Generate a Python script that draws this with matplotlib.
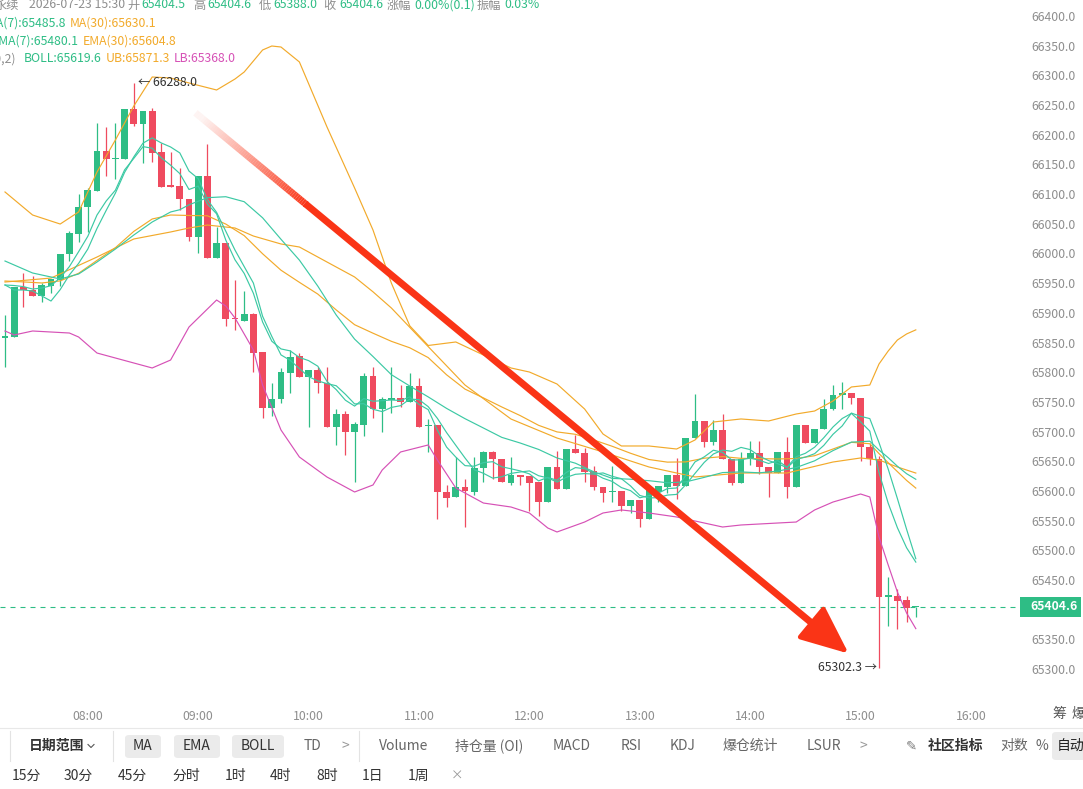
import matplotlib
matplotlib.use("Agg")
import matplotlib.pyplot as plt
import numpy as np
import pandas as pd
from matplotlib.collections import LineCollection
from matplotlib.patches import Rectangle, FancyBboxPatch
from matplotlib.lines import Line2D

plt.rcParams['font.family'] = ['Noto Sans CJK SC', 'DejaVu Sans']

# ---------------- data (5 minute candles) ----------------
start_time = "2026-07-23 07:15"

open_ = [65857.6, 65859.3, 65943.5, 65938.5, 65928.4, 65945.2, 65955.3, 65999.1, 66032.8, 66078.3,
         66105.2, 66172.6, 66159.1, 66159.1, 66243.4, 66218.1, 66240.0, 66170.9, 66115.4, 66113.7,
         66091.8, 66027.7, 66130.5, 65992.4, 66017.6, 65891.3, 65886.2, 65898.0, 65834.0, 65739.7,
         65754.8, 65798.6, 65827.3, 65791.9, 65803.7, 65781.8, 65707.7, 65729.6, 65699.3, 65711.0,
         65793.6, 65738.0, 65753.2, 65756.5, 65749.8, 65776.7, 65709.4, 65711.0, 65598.2, 65589.8,
         65606.6, 65598.2, 65638.6, 65665.6, 65653.8, 65613.4, 65626.8, 65625.1, 65615.0, 65581.3,
         65640.3, 65603.2, 65670.6, 65663.9, 65633.6, 65606.6, 65598.2, 65599.9, 65574.6, 65584.7,
         65552.7, 65598.2, 65606.6, 65626.8, 65608.3, 65689.1, 65717.8, 65682.4, 65702.6, 65653.8,
         65613.4, 65653.8, 65663.9, 65640.3, 65630.2, 65665.6, 65606.6, 65711.0, 65680.7, 65704.3,
         65738.0, 65761.6, 65764.9, 65756.5, 65674.0, 65653.8, 65421.3, 65423.0, 65416.2, 65404.5]
high = [65896.4, 65943.5, 65967.1, 65962.0, 65950.3, 65957.0, 65999.1, 66037.9, 66100.2, 66110.3,
        66219.8, 66213.1, 66219.8, 66243.4, 66288.0, 66240.0, 66245.1, 66186.1, 66170.9, 66144.0,
        66091.8, 66130.5, 66184.4, 66044.6, 66017.6, 65955.3, 65936.8, 65899.7, 65834.0, 65781.8,
        65807.1, 65837.4, 65832.3, 65803.7, 65808.8, 65808.8, 65738.0, 65734.6, 65716.1, 65798.6,
        65808.8, 65758.2, 65808.8, 65778.4, 65798.6, 65790.2, 65721.1, 65711.0, 65610.0, 65657.1,
        65620.1, 65657.1, 65667.2, 65667.2, 65653.8, 65657.1, 65626.8, 65625.1, 65615.0, 65640.3,
        65667.2, 65670.6, 65694.2, 65672.3, 65642.0, 65606.6, 65642.0, 65599.9, 65584.7, 65584.7,
        65603.2, 65608.3, 65626.8, 65655.5, 65689.1, 65763.3, 65717.8, 65719.5, 65729.6, 65653.8,
        65665.6, 65684.1, 65684.1, 65640.3, 65665.6, 65690.8, 65711.0, 65711.0, 65704.3, 65754.8,
        65778.4, 65783.5, 65764.9, 65756.5, 65680.7, 65658.8, 65455.0, 65434.8, 65423.0, 65404.6]
low = [65808.8, 65859.3, 65909.8, 65928.4, 65918.3, 65933.4, 65945.2, 65987.3, 66019.3, 66036.2,
       66105.2, 66130.5, 66125.5, 66159.1, 66214.7, 66152.4, 66154.1, 66112.0, 66112.0, 66073.2,
       66021.0, 66000.8, 65992.4, 65992.4, 65877.8, 65871.1, 65886.2, 65800.3, 65722.8, 65726.2,
       65748.1, 65764.9, 65791.9, 65707.7, 65764.9, 65707.7, 65677.4, 65660.5, 65615.0, 65692.5,
       65722.8, 65699.3, 65731.3, 65741.4, 65749.8, 65707.7, 65665.6, 65552.7, 65572.9, 65589.8,
       65539.2, 65593.1, 65615.0, 65620.1, 65615.0, 65610.0, 65610.0, 65566.2, 65557.7, 65581.3,
       65603.2, 65603.2, 65663.9, 65615.0, 65601.5, 65581.3, 65581.3, 65566.2, 65562.8, 65539.2,
       65552.7, 65581.3, 65596.5, 65586.4, 65608.3, 65689.1, 65674.0, 65677.4, 65653.8, 65610.0,
       65613.4, 65643.7, 65628.5, 65589.8, 65630.2, 65588.1, 65606.6, 65680.7, 65680.7, 65704.3,
       65736.3, 65738.0, 65746.4, 65650.4, 65643.7, 65302.3, 65372.4, 65367.4, 65379.2, 65388.0]
close = [65861.0, 65943.5, 65938.5, 65928.4, 65946.9, 65957.0, 65999.1, 66034.5, 66078.3, 66106.9,
         66172.6, 66159.1, 66160.8, 66243.4, 66218.1, 66240.0, 66169.2, 66112.0, 66112.0, 66091.8,
         66027.7, 66130.5, 65992.4, 66017.6, 65889.6, 65889.6, 65898.0, 65832.3, 65739.7, 65754.8,
         65800.3, 65825.6, 65791.9, 65803.7, 65781.8, 65707.7, 65729.6, 65699.3, 65712.7, 65793.6,
         65738.0, 65754.8, 65756.5, 65749.8, 65776.7, 65707.7, 65711.0, 65598.2, 65588.1, 65606.6,
         65599.9, 65638.6, 65665.6, 65653.8, 65615.0, 65626.8, 65623.5, 65613.4, 65581.3, 65640.3,
         65603.2, 65670.6, 65663.9, 65631.9, 65606.6, 65596.5, 65599.9, 65574.6, 65584.7, 65552.7,
         65603.2, 65608.3, 65626.8, 65608.3, 65689.1, 65717.8, 65682.4, 65702.6, 65653.8, 65613.4,
         65653.8, 65663.9, 65640.3, 65630.2, 65665.6, 65606.6, 65711.0, 65680.7, 65704.3, 65738.0,
         65761.6, 65764.9, 65756.5, 65674.0, 65653.8, 65421.3, 65424.7, 65414.5, 65402.8, 65404.6]

ma7 = [65946.9, 65938.5, 65938.5, 65936.8, 65928.4, 65919.9, 65939.1, 65963.9, 65983.3, 66007.4,
       66042.2, 66072.6, 66101.7, 66136.6, 66162.7, 66185.9, 66194.7, 66186.1, 66179.4, 66169.4,
       66138.8, 66126.1, 66090.7, 66069.2, 66037.4, 66005.7, 65977.9, 65950.1, 65894.2, 65860.3,
       65829.1, 65820.0, 65806.1, 65792.6, 65785.3, 65780.8, 65777.2, 65762.8, 65746.6, 65746.9,
       65737.5, 65733.6, 65740.7, 65743.6, 65754.7, 65753.8, 65742.0, 65722.2, 65698.2, 65676.8,
       65655.5, 65635.7, 65629.7, 65621.6, 65623.9, 65629.5, 65631.9, 65633.7, 65625.6, 65621.9,
       65614.9, 65622.8, 65628.0, 65629.2, 65628.3, 65630.3, 65624.6, 65620.6, 65608.3, 65592.4,
       65588.2, 65588.6, 65593.0, 65594.1, 65610.5, 65629.5, 65648.0, 65662.2, 65668.8, 65666.7,
       65673.3, 65669.6, 65658.6, 65651.1, 65645.8, 65639.1, 65653.1, 65657.0, 65662.7, 65676.7,
       65695.4, 65709.5, 65731.1, 65725.7, 65721.8, 65681.4, 65636.8, 65587.1, 65535.3, 65485.8]
ema7 = [65946.9, 65946.0, 65944.2, 65940.1, 65941.8, 65945.7, 65959.0, 65977.9, 66003.0, 66028.9,
        66064.8, 66088.4, 66106.6, 66140.8, 66160.2, 66180.0, 66177.3, 66161.0, 66148.7, 66134.6,
        66107.8, 66113.5, 66083.2, 66066.8, 66022.5, 65989.3, 65966.4, 65932.9, 65884.6, 65852.2,
        65839.2, 65835.9, 65824.9, 65819.5, 65810.1, 65784.5, 65770.7, 65752.8, 65742.9, 65755.5,
        65751.1, 65752.0, 65753.2, 65752.3, 65758.4, 65745.7, 65737.0, 65702.3, 65673.8, 65657.0,
        65642.6, 65641.6, 65647.7, 65649.2, 65640.6, 65637.3, 65633.7, 65628.7, 65616.9, 65622.8,
        65617.9, 65631.0, 65639.3, 65637.4, 65629.7, 65621.4, 65616.0, 65605.6, 65600.4, 65588.4,
        65592.1, 65596.2, 65603.9, 65604.9, 65626.0, 65648.9, 65657.3, 65668.6, 65664.9, 65652.1,
        65652.4, 65655.3, 65651.6, 65646.2, 65651.1, 65640.0, 65657.6, 65663.4, 65673.6, 65689.6,
        65707.7, 65722.0, 65730.6, 65716.4, 65700.8, 65630.9, 65579.3, 65538.0, 65504.2, 65480.1]

ema30_idx = [0, 2, 4, 6, 8, 10, 12, 14, 16, 18, 20, 22, 24, 26, 28, 30, 32, 34, 36, 38,
             40, 42, 44, 46, 48, 50, 52, 54, 56, 58, 60, 62, 64, 66, 68, 70, 72, 74, 76, 78,
             80, 82, 84, 86, 88, 90, 92, 94, 95, 96, 97, 98, 99]
ema30 = [65953.6, 65952.1, 65950.3, 65953.8, 65966.6, 65988.3, 66009.7, 66037.2, 66058.1, 66064.8,
         66064.0, 66063.5, 66049.5, 66030.1, 65999.5, 65971.8, 65951.4, 65931.6, 65904.9, 65880.0,
         65865.7, 65852.0, 65841.1, 65824.6, 65795.6, 65771.5, 65756.7, 65741.4, 65726.9, 65710.5,
         65699.4, 65695.4, 65685.8, 65675.2, 65663.4, 65652.9, 65648.5, 65648.9, 65655.1, 65657.8,
         65654.9, 65654.4, 65653.8, 65654.6, 65659.3, 65670.6, 65681.9, 65679.5, 65662.9, 65647.5,
         65632.5, 65617.7, 65604.8]

ma30_idx = [0, 5, 10, 14, 18, 20, 22, 25, 27, 30, 32, 35, 38, 40, 42, 45, 50, 55, 60, 65,
            70, 75, 80, 85, 90, 93, 95, 97, 99]
ma30 = [65951.9, 65958.6, 65994.0, 66024.4, 66036.2, 66042.9, 66047.9, 66042.9, 66029.4, 66016.0,
        66010.9, 65985.6, 65960.4, 65935.4, 65908.1, 65859.3, 65778.4, 65721.1, 65689.1, 65665.6,
        65640.3, 65623.5, 65630.2, 65630.2, 65648.7, 65655.5, 65652.1, 65640.3, 65630.1]

boll_idx = [0, 3, 6, 8, 10, 12, 14, 16, 18, 19, 20, 22, 24, 26, 28, 30, 32, 34, 36, 38,
            40, 42, 44, 46, 48, 50, 52, 54, 56, 58, 60, 62, 64, 66, 68, 70, 72, 74, 76, 78,
            80, 82, 84, 86, 88, 90, 92, 94, 95, 96, 97, 98, 99]
boll_mid = [65987.3, 65967.1, 65957.0, 65965.4, 65985.6, 66007.5, 66031.1, 66053.0, 66069.9, 66073.7,
            66082.0, 66094.0, 66095.6, 66087.2, 66060.1, 66023.9, 65988.8, 65945.0, 65896.4, 65855.7,
            65826.4, 65795.8, 65776.7, 65758.4, 65739.0, 65721.7, 65706.0, 65690.2, 65680.7, 65669.9,
            65655.5, 65646.7, 65632.2, 65621.1, 65619.7, 65617.2, 65613.8, 65615.2, 65622.8, 65630.9,
            65632.0, 65630.5, 65633.4, 65639.4, 65650.7, 65667.9, 65682.2, 65683.8, 65668.9, 65656.0,
            65641.6, 65629.0, 65619.6]

ub_idx = [0, 3, 6, 8, 10, 12, 14, 16, 18, 20, 23, 25, 26, 28, 29, 30, 32, 35, 38, 40,
          42, 44, 46, 49, 52, 55, 57, 60, 63, 65, 67, 70, 73, 75, 77, 80, 83, 86, 88, 90,
          92, 94, 95, 96, 97, 98, 99]
ub = [66103.6, 66064.8, 66049.6, 66069.9, 66137.2, 66191.2, 66248.4, 66297.3, 66295.6, 66287.2,
      66275.4, 66293.9, 66305.7, 66342.8, 66349.5, 66347.8, 66322.6, 66213.1, 66110.3, 66039.5,
      65950.0, 65878.0, 65845.0, 65850.9, 65829.0, 65807.1, 65800.3, 65780.1, 65738.0, 65695.9,
      65675.7, 65675.7, 65670.6, 65685.8, 65716.1, 65721.2, 65717.8, 65729.6, 65734.6, 65751.5,
      65775.1, 65778.4, 65813.8, 65835.7, 65854.2, 65864.4, 65871.3]

lb_idx = [0, 1, 3, 7, 8, 10, 12, 16, 18, 20, 21, 23, 24, 25, 27, 28, 30, 32, 35, 38,
          40, 41, 43, 46, 47, 49, 52, 55, 57, 59, 60, 63, 65, 67, 70, 73, 78, 80, 86, 88,
          90, 93, 94, 95, 96, 97, 98, 99]
lb = [65869.4, 65862.7, 65869.4, 65866.0, 65859.3, 65832.3, 65823.9, 65807.1, 65820.5, 65876.1,
      65891.3, 65921.6, 65911.5, 65891.3, 65837.4, 65778.4, 65702.6, 65657.1, 65623.4, 65598.2,
      65610.0, 65635.2, 65665.6, 65677.4, 65652.1, 65604.9, 65579.6, 65572.9, 65562.8, 65537.5,
      65530.8, 65547.6, 65562.8, 65567.9, 65562.8, 65556.1, 65539.2, 65542.6, 65547.6, 65567.9,
      65581.3, 65594.8, 65589.8, 65522.4, 65475.2, 65429.7, 65394.3, 65368.0]

hour_labels = ["08:00", "09:00", "10:00", "11:00", "12:00", "13:00", "14:00", "15:00", "16:00"]
price_ticks = [65300, 65350, 65450, 65500, 65550, 65600, 65650, 65700, 65750, 65800,
               65850, 65900, 65950, 66000, 66050, 66100, 66150, 66200, 66250, 66300, 66350, 66400]

# trend arrow drawn on the chart (candle index, price)
arrow_from = (20.7, 66237.0)
arrow_to = (91.7, 65326.0)

# ---------------- style ----------------
GREEN = "#2ebd85"
RED = "#ef4b5f"
TEAL = "#3cc9a4"
ORANGE = "#f2aa2b"
PINK = "#d651b6"
GRAY = "#8e8e8e"
ARROW_RED = "#fa3416"

W, H = 1083, 789


def fx(x):
    return x / W


def fy(y):
    return 1 - y / H


fig = plt.figure(figsize=(W / 100, H / 100), dpi=100, facecolor="white")
ax = fig.add_axes([0, 89 / H, 1022 / W, 700 / H])
ax.set_facecolor("white")

x = np.arange(len(close))
o = np.array(open_)
h = np.array(high)
l = np.array(low)
c = np.array(close)
up = c >= o
colors = np.where(up, GREEN, RED)

# candles
ax.vlines(x, l, h, colors=colors, lw=0.9, zorder=3)
body_bottom = np.minimum(o, c)
body_h = np.maximum(np.abs(c - o), 1.4)
ax.bar(x, body_h, bottom=body_bottom, width=0.72, color=colors, linewidth=0, zorder=4)

# indicators
lw = 0.85
ax.plot(ma30_idx, ma30, color=ORANGE, lw=lw, zorder=5)
ax.plot(ema30_idx, ema30, color=ORANGE, lw=lw, zorder=5)
ax.plot(ub_idx, ub, color=ORANGE, lw=lw, zorder=5)
ax.plot(lb_idx, lb, color=PINK, lw=lw, zorder=5)
ax.plot(boll_idx, boll_mid, color=TEAL, lw=lw, zorder=5)
ax.plot(x, ma7, color=TEAL, lw=lw, zorder=5)
ax.plot(x, ema7, color=TEAL, lw=lw, zorder=5)

# last price line
last = close[-1]
ax.axhline(last, color=GREEN, lw=0.8, ls=(0, (4.5, 4.5)), zorder=2)

# high / low marks
hi_i = int(np.argmax(h))
lo_i = int(np.argmin(l))
ax.annotate("← {:.1f}".format(h[hi_i]), xy=(hi_i, h[hi_i]), xytext=(3, 0),
            textcoords="offset points", ha="left", va="center", fontsize=8.8, color="#333333", zorder=7)
ax.annotate("{:.1f} →".format(l[lo_i]), xy=(lo_i, l[lo_i]), xytext=(-1.5, 0),
            textcoords="offset points", ha="right", va="center", fontsize=8.8, color="#333333", zorder=7)

# red arrow: faded tail, solid shaft, big head
def along(tt):
    return (arrow_from[0] + (arrow_to[0] - arrow_from[0]) * tt,
            arrow_from[1] + (arrow_to[1] - arrow_from[1]) * tt)


fade_end = 0.17
shaft_end = 0.95
t = np.linspace(0, fade_end, 60)
pts = np.column_stack(along(t))
segs = np.stack([pts[:-1], pts[1:]], axis=1)
rgba = np.array([matplotlib.colors.to_rgba(ARROW_RED)] * len(segs))
rgba[:, 3] = np.clip(t[:-1] / fade_end, 0.05, 1.0)
ax.add_collection(LineCollection(segs, colors=rgba, linewidths=5.0, capstyle="butt",
                                 antialiased=True, zorder=6))
p0 = along(fade_end - 0.002)
p1 = along(shaft_end)
ax.plot([p0[0], p1[0]], [p0[1], p1[1]], color=ARROW_RED, lw=5.0, solid_capstyle="butt", zorder=6)
ax.annotate("", xy=arrow_to, xytext=along(shaft_end - 0.01),
            arrowprops=dict(arrowstyle="-|>,head_length=3.0,head_width=1.3", color=ARROW_RED,
                            lw=3.5, shrinkA=0, shrinkB=0, mutation_scale=10), zorder=6)

# axes ranges
ax.set_xlim(-5 / 9.2, (1022 - 5) / 9.2)
ax.set_ylim(66427 - 1.6846 * 700, 66427)
for s in ax.spines.values():
    s.set_visible(False)

# time axis
times = pd.date_range(start_time, periods=len(close), freq="5min")
step = times[1] - times[0]
tick_pos = [(pd.Timestamp("2026-07-23 " + lab) - times[0]) / step for lab in hour_labels]
ax.set_xticks(tick_pos)
ax.set_xticklabels(hour_labels)
ax.tick_params(axis="x", length=0, pad=7, labelsize=8.8, labelcolor=GRAY)

# price axis
ax.yaxis.tick_right()
ax.set_yticks(price_ticks)
ax.set_yticklabels(["{:.1f}".format(v) for v in price_ticks])
ax.tick_params(axis="y", length=0, pad=7, labelsize=8.8, labelcolor=GRAY)

# last price tag
fig.canvas.draw()
y_disp = ax.transData.transform((0, last))[1]
y_px = H - y_disp
fig.add_artist(Rectangle((fx(1020), fy(y_px + 10)), 61 / W, 20 / H, transform=fig.transFigure,
                         facecolor=GREEN, edgecolor="none", zorder=10))
fig.text(fx(1054), fy(y_px), "{:.1f}".format(last), color="white", fontsize=8.8, fontweight="bold",
         ha="center", va="center", zorder=11)

# header legend (the left edge is cut off in the original view)
header = [
    (5, [(-5, "永续", GRAY), (28.6, "2026-07-23 15:30", GRAY), (127, "开", GRAY), (141, "65404.5", GREEN),
         (193, "高", GRAY), (207, "65404.6", GREEN), (259, "低", GRAY), (273, "65388.0", GREEN),
         (323, "收", GRAY), (339, "65404.6", GREEN), (387, "涨幅", GRAY), (414, "0.00%(0.1)", GREEN),
         (477, "振幅", GRAY), (504, "0.03%", GREEN)]),
    (23, [(-13, "MA(7):65485.8", GREEN), (69.6, "MA(30):65630.1", ORANGE)]),
    (41, [(-8, "EMA(7):65480.1", GREEN), (83, "EMA(30):65604.8", ORANGE)]),
    (59, [(-46, "BOLL(20,2)", GRAY), (24, "BOLL:65619.6", GREEN), (106, "UB:65871.3", ORANGE),
          (174, "LB:65368.0", PINK)]),
]
for yy, pieces in header:
    for xx, s, col in pieces:
        fig.text(fx(xx), fy(yy), s, color=col, fontsize=8.8, ha="left", va="center")

# small labels under the price axis
fig.text(fx(1052), fy(714), "筹", color="#555555", fontsize=10, ha="left", va="center")
fig.text(fx(1072), fy(714), "爆", color="#555555", fontsize=10, ha="left", va="center")

# ---------------- toolbar ----------------
fig.add_artist(Line2D([0, 1], [fy(728), fy(728)], transform=fig.transFigure, color="#e8e8e8", lw=0.8))
for sx in [10, 112.5, 359]:
    fig.add_artist(Line2D([fx(sx), fx(sx)], [fy(731), fy(761)], transform=fig.transFigure,
                          color="#e3e3e3", lw=0.8))

for x0, x1, y0, y1 in [(125, 161, 735, 758), (174, 220, 735, 758), (232, 284, 735, 758),
                       (1052, 1090, 732, 760)]:
    fig.add_artist(FancyBboxPatch((fx(x0), fy(y1)), (x1 - x0) / W, (y1 - y0) / H,
                                  boxstyle="round,pad=0,rounding_size=0.004", transform=fig.transFigure,
                                  facecolor="#ebebeb", edgecolor="none"))

row1 = 746
fig.text(fx(28.6), fy(row1), "日期范围", color="#333333", fontsize=10, fontweight="bold", ha="left", va="center")
fig.add_artist(Line2D([fx(88), fx(91), fx(94)], [fy(row1 - 1.5), fy(row1 + 1.5), fy(row1 - 1.5)],
                      transform=fig.transFigure, color="#555555", lw=0.8))
for cx, s in [(143, "MA"), (197, "EMA"), (258, "BOLL")]:
    fig.text(fx(cx), fy(row1), s, color="#333333", fontsize=10, ha="center", va="center")
for xx, s, col in [(304, "TD", "#666666"), (341, ">", "#999999"), (379, "Volume", "#666666"),
                   (455, "持仓量 (OI)", "#666666"), (553, "MACD", "#666666"), (621, "RSI", "#666666"),
                   (670, "KDJ", "#666666"), (723, "爆仓统计", "#666666"), (807, "LSUR", "#666666"),
                   (860, ">", "#999999"), (1000, "对数", "#666666"), (1036, "%", "#666666")]:
    fig.text(fx(xx), fy(row1), s, color=col, fontsize=10, ha="left", va="center")
fig.text(fx(906), fy(row1), "✎", color="#777777", fontsize=9.5, ha="left", va="center",
         family=["DejaVu Sans"])
fig.text(fx(928), fy(row1), "社区指标", color="#333333", fontsize=10, fontweight="bold", ha="left", va="center")
fig.text(fx(1057), fy(row1), "自动", color="#222222", fontsize=10, ha="left", va="center")

row2 = 776
for xx, s in [(12, "15分"), (64, "30分"), (118, "45分"), (172, "分时"), (225, "1时"),
              (270, "4时"), (316, "8时"), (362, "1日"), (408, "1周")]:
    fig.text(fx(xx), fy(row2), s, color="#333333", fontsize=10, ha="left", va="center")
fig.text(fx(451), fy(row2), "×", color="#999999", fontsize=9, ha="left", va="center")

fig.savefig("out.png", dpi=100, facecolor="white")
